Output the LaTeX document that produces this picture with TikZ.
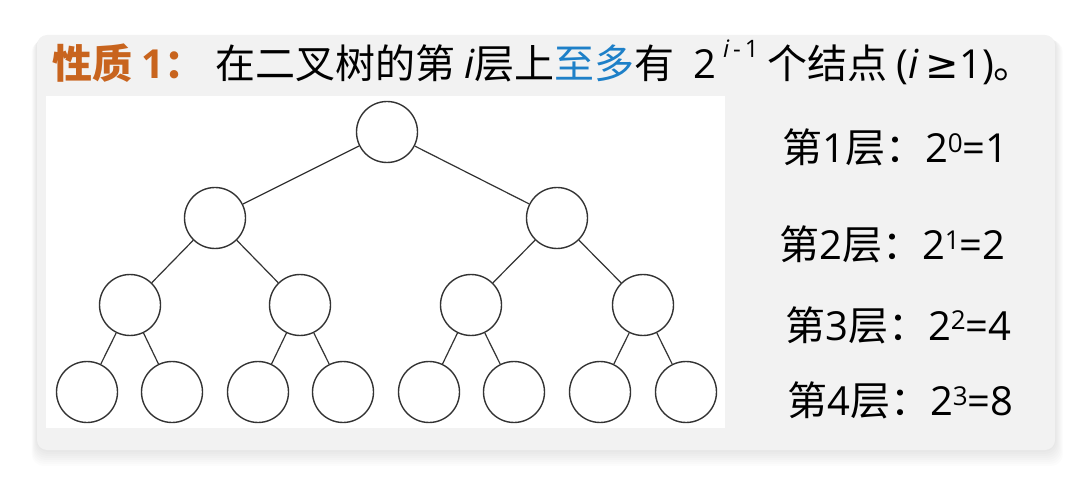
\documentclass[tikz,border=0pt]{standalone}
\usepackage{fontspec}
\setmainfont{Noto Sans CJK SC}[AutoFakeSlant=0.2]
\newfontfamily\latfont{Open Sans}
\newfontfamily\symfont{DejaVu Sans}
\definecolor{propcolor}{HTML}{C8641E}
\definecolor{keycolor}{HTML}{1E80C8}
\definecolor{panelgray}{HTML}{F2F2F2}
\definecolor{linegray}{HTML}{333333}
\newcommand{\supexp}[1]{\raisebox{21pt}{\fontsize{24}{24}\selectfont #1}}
\newcommand{\supval}[1]{\raisebox{10pt}{\fontsize{26}{26}\selectfont #1}}

\begin{document}
\begin{tikzpicture}[x=1pt, y=-1pt,
    treenode/.style={circle, draw=linegray, line width=1.4pt, fill=white,
        minimum size=61pt, inner sep=0pt},
    treeedge/.style={draw=linegray, line width=1.2pt},
    levellabel/.style={anchor=base west, inner sep=0pt, font=\fontsize{40}{40}\selectfont}]
    \useasboundingbox (0,0) rectangle (1092,486);
    % ==== PANEL ====
    \foreach \s in {2,4,...,16}
        \fill[black, opacity=0.012, rounded corners=12pt]
            (37-\s/3,35+\s/3) rectangle (1055+\s/2,450+\s);
    \fill[panelgray, rounded corners=10pt] (37,35) rectangle (1055,450);
    \fill[white] (46,96) rectangle (725,428);
    % ==== TITLE ====
    \node[anchor=base west, inner sep=0pt, text=propcolor,
        font=\fontsize{40}{40}\selectfont\bfseries] (prop) at (52,79) {性质 {\latfont 1}：};
    \node[anchor=base west, inner sep=0pt, font=\fontsize{40}{40}\selectfont] (stmt) at (215,79)
        {在二叉树的第 {\latfont\itshape i}层上\textcolor{keycolor}{至多}有
         {\latfont\ 2\,\supexp{\itshape i\upshape\,-\,1}} 个结点
         {\latfont(\textit{i}\,{\symfont ≥}1)}。};
    % ==== TREE ====
    \node[treenode] (r) at (387,132) {};
    \node[treenode] (a) at (215,218) {};
    \node[treenode] (b) at (557,218) {};
    \node[treenode] (c1) at (130,305) {};
    \node[treenode] (c2) at (300,305) {};
    \node[treenode] (c3) at (471,305) {};
    \node[treenode] (c4) at (643,305) {};
    \foreach \x [count=\i] in {87,172,258,343,429,514,600,686}
        \node[treenode] (d\i) at (\x,392) {};
    \foreach \p/\c in {r/a, r/b, a/c1, a/c2, b/c3, b/c4, c1/d1, c1/d2,
                       c2/d3, c2/d4, c3/d5, c3/d6, c4/d7, c4/d8}
        \draw[treeedge] (\p) -- (\c);
    % ==== LEVELS ====
    \node[levellabel] (lv1) at (782,163) {第{\latfont 1}层：{\latfont 2\supval{0}=1}};
    \node[levellabel] (lv2) at (779,260) {第{\latfont 2}层：{\latfont 2\supval{1}=2}};
    \node[levellabel] (lv3) at (785,340) {第{\latfont 3}层：{\latfont 2\supval{2}=4}};
    \node[levellabel] (lv4) at (787,415) {第{\latfont 4}层：{\latfont 2\supval{3}=8}};
\end{tikzpicture}
\end{document}
